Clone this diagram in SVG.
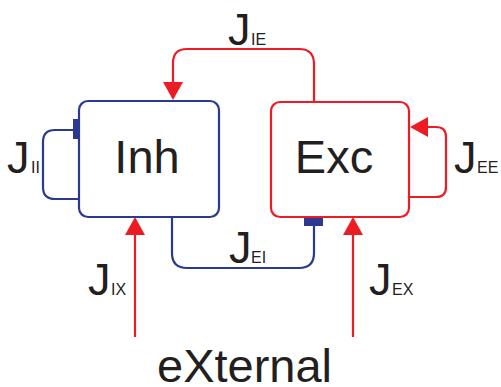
<svg xmlns="http://www.w3.org/2000/svg" width="501" height="387" viewBox="0 0 501 387">
<style>
.b{fill:none;stroke:#2b3990;stroke-width:2.2}
.r{fill:none;stroke:#ed1c24;stroke-width:2.2}
.ah{fill:#ed1c24}
.cap{fill:#2b3990}
text{font-family:"Liberation Sans",Arial,sans-serif;fill:#231f20}
.big{font-size:47px}
.J{font-size:45px}
.s{font-size:16px}
</style>
<rect width="501" height="387" fill="#fff"/>
<g id="connectors">
  <!-- J_IE -->
  <path class="r" d="M314,101 V64 Q314,49 299,49 H187 Q173,49 173,63 V84"/>
  <polygon class="ah" points="163,82 183,82 173,100"/>
  <!-- J_II -->
  <path class="b" d="M73,130 H55 Q43,130 43,142 V187 Q43,199 55,199 H79"/>
  <rect class="cap" x="73" y="119" width="6" height="20"/>
  <!-- J_EI -->
  <path class="b" d="M172,217 V253 Q172,268 187,268 H299 Q314,268 314,253 V224"/>
  <rect class="cap" x="304" y="217" width="19" height="9"/>
  <!-- J_EE -->
  <path class="r" d="M426,127 H436 Q446,127 446,137 V187 Q446,197 436,197 H409"/>
  <polygon class="ah" points="428,117 428,137 410,127"/>
  <!-- J_IX -->
  <path class="r" d="M135,337 V233"/>
  <polygon class="ah" points="125,235 145,235 135,217"/>
  <!-- J_EX -->
  <path class="r" d="M353,337 V233"/>
  <polygon class="ah" points="343,235 363,235 353,217"/>
</g>
<g id="labels">
  <text x="228" y="45" class="J">J</text><text x="251" y="45" class="s">IE</text>
  <text x="7" y="173" class="J">J</text><text x="31" y="173" class="s">II</text>
  <text x="454" y="173" class="J">J</text><text x="477" y="173" class="s">EE</text>
  <text x="229" y="263" class="J">J</text><text x="251" y="263" class="s">EI</text>
  <text x="88" y="295" class="J">J</text><text x="111" y="295" class="s">IX</text>
  <text x="369" y="295" class="J">J</text><text x="392" y="295" class="s">EX</text>
</g>
<g id="inh">
  <rect class="b" x="79" y="101" width="140" height="116" rx="9"/>
  <text x="147" y="173" class="big" text-anchor="middle">Inh</text>
</g>
<g id="exc">
  <rect class="r" x="271" y="102" width="138" height="115" rx="9"/>
  <text x="334" y="173" class="big" text-anchor="middle">Exc</text>
</g>
<g id="external">
  <text x="157" y="382" font-size="47">eXternal</text>
</g>
</svg>
